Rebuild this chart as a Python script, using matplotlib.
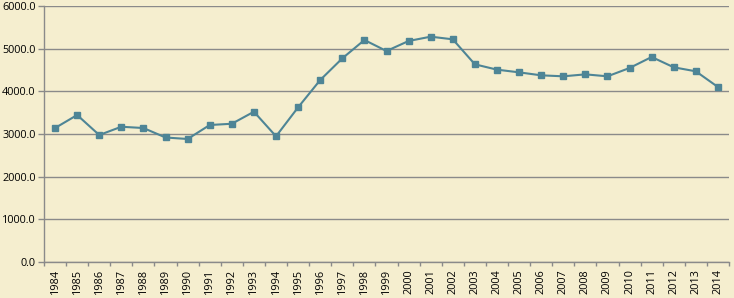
import numpy as np
import matplotlib.pyplot as plt

years = [str(y) for y in range(1984, 2015)]
values = [3140, 3445, 2976, 3170, 3140, 2918, 2883, 3211, 3240, 3522,
          2946, 3625, 4265, 4773, 5203, 4945, 5180, 5281, 5219, 4633,
          4508, 4445, 4375, 4352, 4398, 4352, 4547, 4805, 4563, 4469,
          4101]
y_ticks = [0, 1000, 2000, 3000, 4000, 5000, 6000]

bg = '#F5EECF'
line_color = '#4E8596'
grid_color = '#8A8A8A'

plt.rcParams['font.family'] = ['Open Sans', 'DejaVu Sans']

fig = plt.figure(figsize=(7.34, 2.98), dpi=100, facecolor=bg)
ax = fig.add_axes([44 / 734, 36 / 298, 685 / 734, 256 / 298])
ax.set_facecolor(bg)

x = np.arange(len(years))
ax.plot(x, values, color=line_color, linewidth=1.5, marker='s',
        markersize=4.8, markerfacecolor=line_color, markeredgecolor=line_color,
        zorder=3)

ax.set_xlim(-0.5, len(years) - 0.5)
ax.set_ylim(0, 6000)
ax.set_yticks(y_ticks)
ax.set_yticklabels([f'{v:.1f}' for v in y_ticks], fontsize=7.8)
ax.yaxis.grid(True, color=grid_color, linewidth=1.0)
ax.set_axisbelow(True)

ax.set_xticks(x)
ax.set_xticklabels(years, rotation=90, fontsize=7.8)
ax.tick_params(axis='x', length=0, pad=5)
ax.set_xticks(np.arange(-0.5, len(years), 1), minor=True)
ax.tick_params(axis='x', which='minor', length=3, color=grid_color, width=1.0)
ax.tick_params(axis='y', length=4, color=grid_color, width=1.0, pad=2)

for s in ['top', 'right']:
    ax.spines[s].set_visible(False)
for s in ['left', 'bottom']:
    ax.spines[s].set_color(grid_color)
    ax.spines[s].set_linewidth(1.0)

fig.savefig('out.png', dpi=100, facecolor=bg)
